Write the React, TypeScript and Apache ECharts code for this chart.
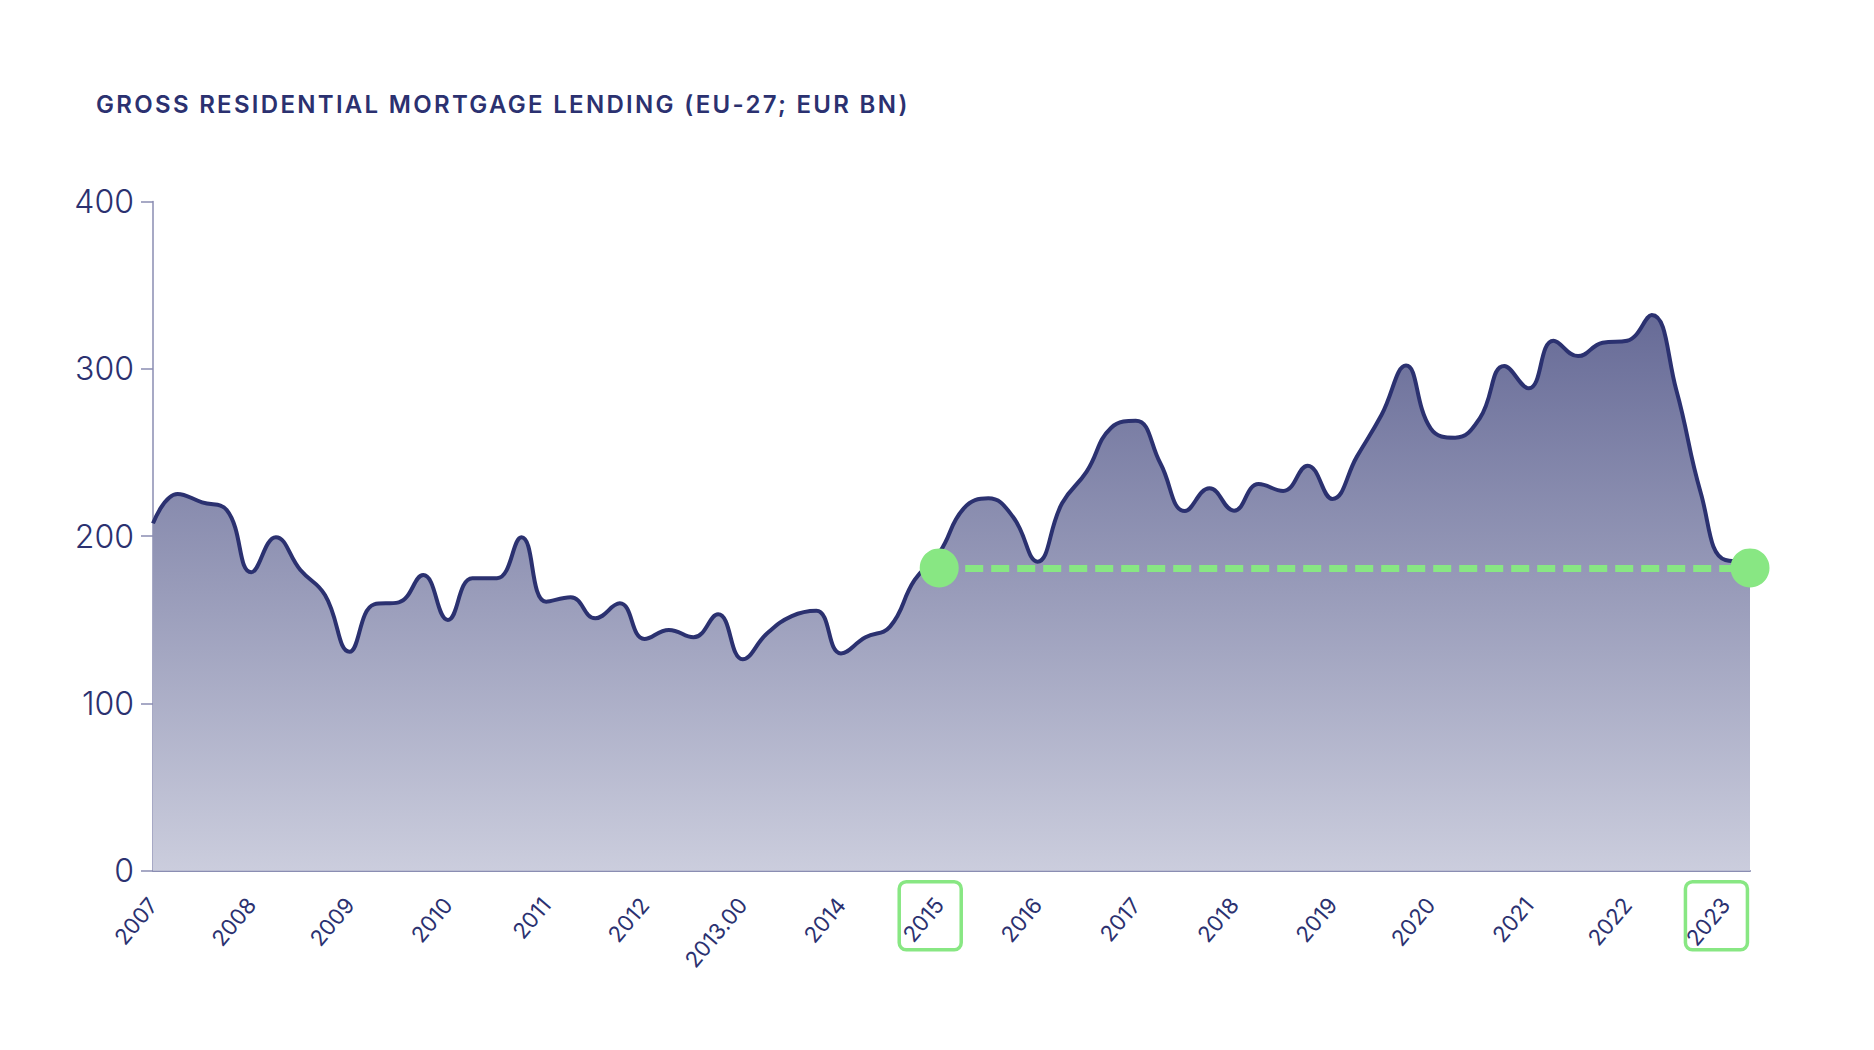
import React, { useEffect, useRef } from "react";
import * as echarts from "echarts";

const quarters: string[] = [];
for (let y = 2007; y <= 2023; y++) {
  for (let q = 1; q <= 4; q++) {
    if (y === 2023 && q > 2) break;
    quarters.push(`${y} Q${q}`);
  }
}

const yearLabels = [
  "2007", "2008", "2009", "2010", "2011", "2012", "2013.00", "2014", "2015",
  "2016", "2017", "2018", "2019", "2020", "2021", "2022", "2023",
];

const lending = [
  207.6, 225.2, 220.2, 215.6, 178.4, 199.3, 179.7, 164.8, 130.9, 159.2,
  160.4, 176.7, 149.9, 174.8, 174.8, 199.3, 160.8, 163.4, 150.9, 159.8,
  138.5, 143.9, 139.5, 153.3, 126.4, 141.9, 152.2, 155.4, 129.9, 139.5,
  145.9, 173.8, 190.0, 216.6, 222.6, 211.6, 184.7, 219.6, 238.5, 264.8,
  269.0, 243.5, 215.0, 228.6, 215.2, 231.1, 227.0, 242.1, 222.2, 247.5,
  272.4, 301.9, 264.4, 258.8, 270.4, 301.7, 288.3, 316.8, 307.6, 315.6,
  316.8, 332.2, 287.3, 225.6, 185.7, 184.7,
];

const compareLevel = 181;
const compareStart = "2015 Q1";
const compareEnd = "2023 Q2";
const highlightedTicks = ["2015 Q1", "2023 Q1"];

const yTicks = [0, 100, 200, 300, 400];

const NAVY = "#2b3170";
const AXIS = "#8a8db2";
const GREEN = "#88e783";
const FONT = "Inter, 'Noto Sans', sans-serif";

export default function App() {
  const ref = useRef<HTMLDivElement>(null);

  useEffect(() => {
    if (!ref.current) return;
    const chart = echarts.init(ref.current, undefined, { renderer: "svg" });
    const option: any = {
      animation: false,
      backgroundColor: "#ffffff",
      title: {
        text: "GROSS RESIDENTIAL MORTGAGE LENDING (EU-27; EUR BN)",
        left: 96,
        top: 89,
        padding: 0,
        textStyle: {
          fontFamily: FONT,
          fontSize: 24,
          fontWeight: 600,
          color: NAVY,
          lineHeight: 30,
        },
      },
      grid: { left: 153, right: 124, top: 201.5, bottom: 179.3, containLabel: false },
      xAxis: {
        type: "category",
        data: quarters,
        boundaryGap: false,
        axisLine: { show: true, lineStyle: { color: AXIS, width: 2 } },
        axisTick: { show: false },
        splitLine: { show: false },
        axisLabel: {
          interval: 3,
          rotate: 50,
          margin: 30,
          fontFamily: FONT,
          fontSize: 22,
          color: NAVY,
          formatter: (_v: string, idx: number) => yearLabels[Math.floor(idx / 4)] ?? "",
        },
      },
      yAxis: {
        type: "value",
        min: yTicks[0],
        max: yTicks[yTicks.length - 1],
        interval: 100,
        axisLine: { show: true, lineStyle: { color: AXIS, width: 1.5 } },
        axisTick: { show: true, length: 12, lineStyle: { color: AXIS, width: 1.5 } },
        splitLine: { show: false },
        axisLabel: {
          margin: 19,
          fontFamily: FONT,
          fontSize: 32,
          fontWeight: 300,
          color: NAVY,
        },
      },
      series: [
        {
          type: "line",
          data: lending,
          smooth: 0.45,
          symbol: "none",
          clip: false,
          lineStyle: { color: NAVY, width: 4 },
          areaStyle: {
            opacity: 1,
            color: new echarts.graphic.LinearGradient(0, 0, 0, 1, [
              { offset: 0, color: "#676b97" },
              { offset: 1, color: "#cbcddd" },
            ]),
          },
          markLine: {
            silent: true,
            symbol: ["circle", "circle"],
            symbolSize: 39,
            label: { show: false },
            lineStyle: { color: GREEN, width: 7, type: [18, 8], opacity: 1 },
            emphasis: { disabled: true },
            data: [
              [
                { coord: [compareStart, compareLevel] },
                { coord: [compareEnd, compareLevel] },
              ],
            ],
          },
        },
      ],
    };
    chart.setOption(option);

    const boxes = highlightedTicks.map((cat) => {
      const p = chart.convertToPixel({ gridIndex: 0 }, [cat, 0]) as number[];
      return {
        type: "rect",
        shape: { x: p[0] - 9 - 31, y: p[1] + 11, width: 62, height: 68, r: 7 },
        style: { fill: "none", stroke: GREEN, lineWidth: 3.5 },
        silent: true,
      };
    });
    chart.setOption({ graphic: boxes });

    return () => chart.dispose();
  }, []);

  return (
    <>
      <style>{`.mortgage-chart svg text[style*="24px"] { letter-spacing: 2.3px; }`}</style>
      <div
        ref={ref}
        className="mortgage-chart"
        style={{ position: "fixed", left: 0, top: 0, width: 1874, height: 1050, background: "#fff" }}
      />
    </>
  );
}
